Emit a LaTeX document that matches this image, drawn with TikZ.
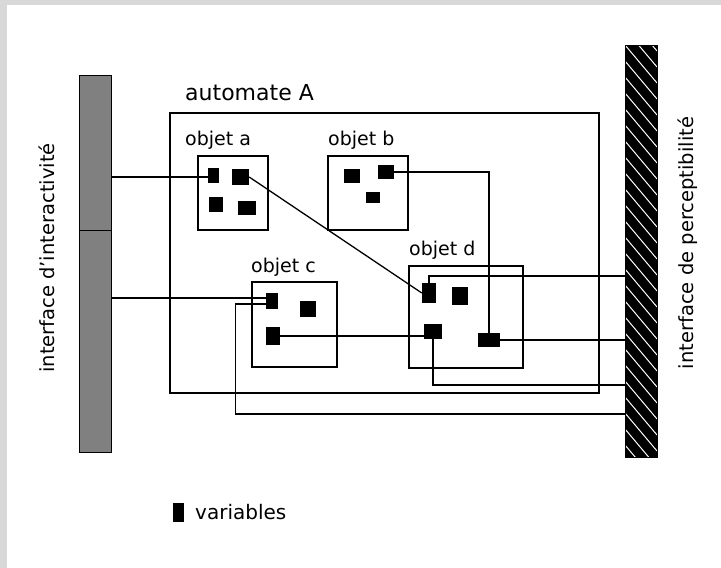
\documentclass[tikz,border=0pt]{standalone}
\usepackage{fontspec}
\setmainfont{DejaVu Sans}
\definecolor{framegray}{RGB}{216,216,216}
\definecolor{dither}{RGB}{128,128,128}
\begin{document}
\begin{tikzpicture}[x=1pt,y=-1pt,
  varbox/.style={fill=black,inner sep=0pt,draw=none},
  objbox/.style={draw=black,line width=1.4pt,inner sep=0pt,fill=none},
  conn/.style={draw=black,line width=1.3pt},
  lab/.style={font=\fontsize{19}{22}\selectfont,inner sep=0pt,anchor=base west},
  sidelab/.style={font=\fontsize{19.5}{22}\selectfont,inner sep=0pt,rotate=90}]

% page frame
\fill[framegray] (0,0) rectangle (721,568);
\fill[white] (7,5) rectangle (721,568);
\useasboundingbox (0,0) rectangle (721,568);

% automaton frame
\node[objbox,minimum width=429pt,minimum height=280pt] (aut) at (384.5,253) {};
\node[lab,font=\fontsize{22}{26}\selectfont] (autlab) at (185,100) {automate A};

% interface bars
\node[draw=black,line width=1pt,fill=dither,minimum width=32pt,minimum height=377pt,inner sep=0pt] (lbar) at (95,263.5) {};
\coordinate (ldiv) at (79,230);
\draw[line width=1pt] (ldiv) -- (ldiv -| lbar.east);
\node[draw=black,line width=1pt,fill=black,minimum width=32pt,minimum height=412pt,inner sep=0pt,
  path picture={
    \foreach \k in {-3,...,27}
      \draw[white,line width=1pt] ([yshift=-\k*16pt]path picture bounding box.north west) -- ++(32,38);
  }] (rbar) at (641,251) {};

\node[sidelab] (ltxt) at (47,258) {interface d'interactivité};
\node[sidelab] (rtxt) at (688,243) {interface de perceptibilité};

% objects
\node[objbox,minimum width=70pt,minimum height=74pt] (oa) at (233,193) {};
\node[objbox,minimum width=80pt,minimum height=74pt] (ob) at (368,193) {};
\node[objbox,minimum width=85pt,minimum height=85pt] (oc) at (294.5,324.5) {};
\node[objbox,minimum width=114pt,minimum height=102pt] (od) at (466,317) {};
\node[lab] (oalab) at (185,145) {objet a};
\node[lab] (oblab) at (328,145) {objet b};
\node[lab] (oclab) at (251,272) {objet c};
\node[lab] (odlab) at (409,255) {objet d};

% variables
\node[varbox,minimum width=11pt,minimum height=15pt] (a1) at (213.5,175.5) {};
\node[varbox,minimum width=17pt,minimum height=16pt] (a2) at (240.5,177) {};
\node[varbox,minimum width=14pt,minimum height=15pt] (a3) at (216,204.5) {};
\node[varbox,minimum width=18pt,minimum height=14pt] (a4) at (247,208) {};
\node[varbox,minimum width=16pt,minimum height=14pt] (b1) at (352,176) {};
\node[varbox,minimum width=16pt,minimum height=14pt] (b2) at (386,172) {};
\node[varbox,minimum width=14pt,minimum height=11pt] (b3) at (373,197.5) {};
\node[varbox,minimum width=12pt,minimum height=16pt] (c1) at (272,301) {};
\node[varbox,minimum width=16pt,minimum height=16pt] (c2) at (308,309) {};
\node[varbox,minimum width=14pt,minimum height=18pt] (c3) at (273,336) {};
\node[varbox,minimum width=14pt,minimum height=20pt] (d1) at (429,293) {};
\node[varbox,minimum width=16pt,minimum height=18pt] (d2) at (460,296) {};
\node[varbox,minimum width=18pt,minimum height=15pt] (d3) at (433,331.5) {};
\node[varbox,minimum width=22pt,minimum height=14pt] (d4) at (489,340) {};

% contact points on the interfaces
\coordinate (l1) at (111,177);
\coordinate (l2) at (111,298);
\coordinate (r1) at (625,276);
\coordinate (r3) at (625,385);
\coordinate (r4) at (625,414);

% connections
\draw[conn] (l1) -- (l1 -| a1.west);
\draw[conn] (a2.east) -- (d1.west);
\draw[conn] (b2.east) -| (d4.north);
\draw[conn] (d1.north) |- (r1);
\draw[conn] (c3.east) -- (c3.east -| d3.west);
\draw[conn] (d4.east) -- (d4.east -| rbar.west);
\draw[conn] (d3.south) |- (r3);
\draw[conn] (l2) -- (l2 -| c1.west);
\draw[conn] ([yshift=-3pt]c1.west) -- ++(-30,0) |- (r4);

% legend
\node[varbox,minimum width=11pt,minimum height=19pt] (leg) at (178.5,512.5) {};
\node[lab,font=\fontsize{20}{24}\selectfont] (legtxt) at (195,519) {variables};
\end{tikzpicture}
\end{document}
